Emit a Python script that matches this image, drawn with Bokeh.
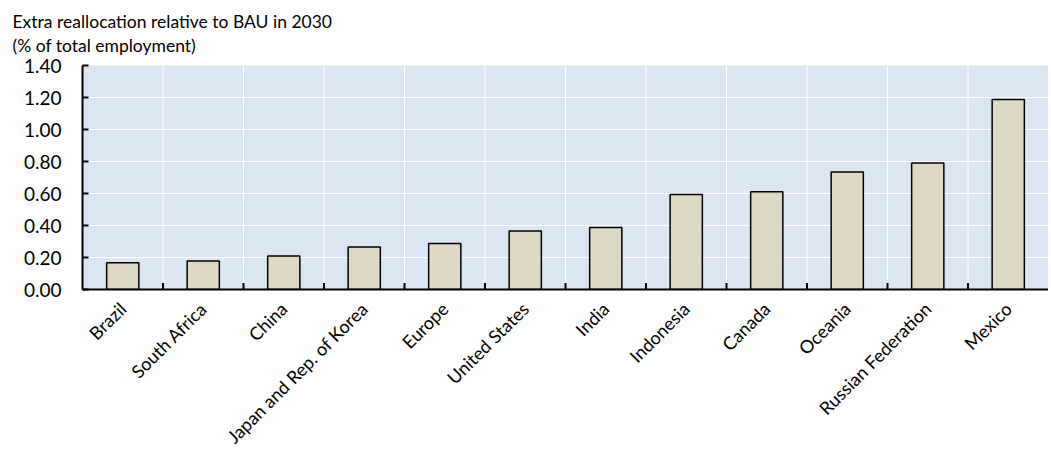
import math
from bokeh.plotting import figure
from bokeh.models import FactorRange, Range1d, ColumnDataSource, Title, NumeralTickFormatter, FixedTicker
from bokeh.transform import dodge
from bokeh.embed import file_html
from bokeh.resources import INLINE

regions = ["Brazil", "South Africa", "China", "Japan and Rep. of Korea", "Europe",
           "United States", "India", "Indonesia", "Canada", "Oceania",
           "Russian Federation", "Mexico"]
values = [0.167, 0.178, 0.21, 0.266, 0.287, 0.365, 0.388, 0.593, 0.611, 0.735, 0.791, 1.187]
y_ticks = [0.0, 0.2, 0.4, 0.6, 0.8, 1.0, 1.2, 1.4]
title_line1 = "Extra reallocation relative to BAU in 2030"
title_line2 = "(% of total employment)"

FONT = "Lato"

src = ColumnDataSource(dict(region=regions, value=values))
bnd = ColumnDataSource(dict(region=regions[:-1]))
bnd_all = ColumnDataSource(dict(region=regions))

p = figure(x_range=FactorRange(*regions), y_range=Range1d(0, 1.4),
           width=1048, height=458, output_backend="svg", toolbar_location=None,
           min_border_left=82, min_border_right=0, min_border_top=65, min_border_bottom=167)
p.background_fill_color = "#DCE6F2"
p.border_fill_color = "white"
p.outline_line_color = None

p.add_layout(Title(text=title_line1 + "\n" + title_line2, align="left", offset=-70,
                   text_font=FONT, text_font_size="17.5px", text_font_style="normal",
                   text_color="black", text_line_height=1.12, standoff=15,
                   vertical_align="top"), "above")

p.xgrid.grid_line_color = None
p.ygrid.grid_line_color = "white"
p.ygrid.grid_line_width = 1
p.ygrid.ticker = FixedTicker(ticks=y_ticks)

# category boundary grid lines
p.segment(x0=dodge("region", 0.5, range=p.x_range), y0=0,
          x1=dodge("region", 0.5, range=p.x_range), y1=1.4,
          source=bnd_all, line_color="white", line_width=1)

p.vbar(x="region", top="value", width=0.4, source=src,
       fill_color="#DDD9C3", line_color="black", line_width=1.5)

# category boundary tick marks (inside)
p.segment(x0=dodge("region", 0.5, range=p.x_range), y0=0,
          x1=dodge("region", 0.5, range=p.x_range), y1=0.04,
          source=bnd, line_color="black", line_width=2)

p.yaxis.ticker = FixedTicker(ticks=y_ticks)
p.yaxis.formatter = NumeralTickFormatter(format="0.00")
p.yaxis.major_tick_in = 6
p.yaxis.major_tick_out = 0
p.yaxis.minor_tick_line_color = None
p.yaxis.axis_line_width = 2
p.yaxis.axis_line_color = "black"
p.yaxis.major_tick_line_width = 2
p.yaxis.major_label_text_font = FONT
p.yaxis.major_label_text_font_size = "19px"
p.yaxis.major_label_text_color = "black"
p.yaxis.major_label_standoff = 21

p.xaxis.major_tick_in = 0
p.xaxis.major_tick_out = 0
p.xaxis.axis_line_width = 2
p.xaxis.axis_line_color = "black"
p.xaxis.major_label_orientation = math.pi / 4
p.xaxis.major_label_text_font = FONT
p.xaxis.major_label_text_font_size = "18px"
p.xaxis.major_label_text_color = "black"
p.xaxis.major_label_standoff = 16

open("out.html", "w").write(file_html(p, INLINE))
